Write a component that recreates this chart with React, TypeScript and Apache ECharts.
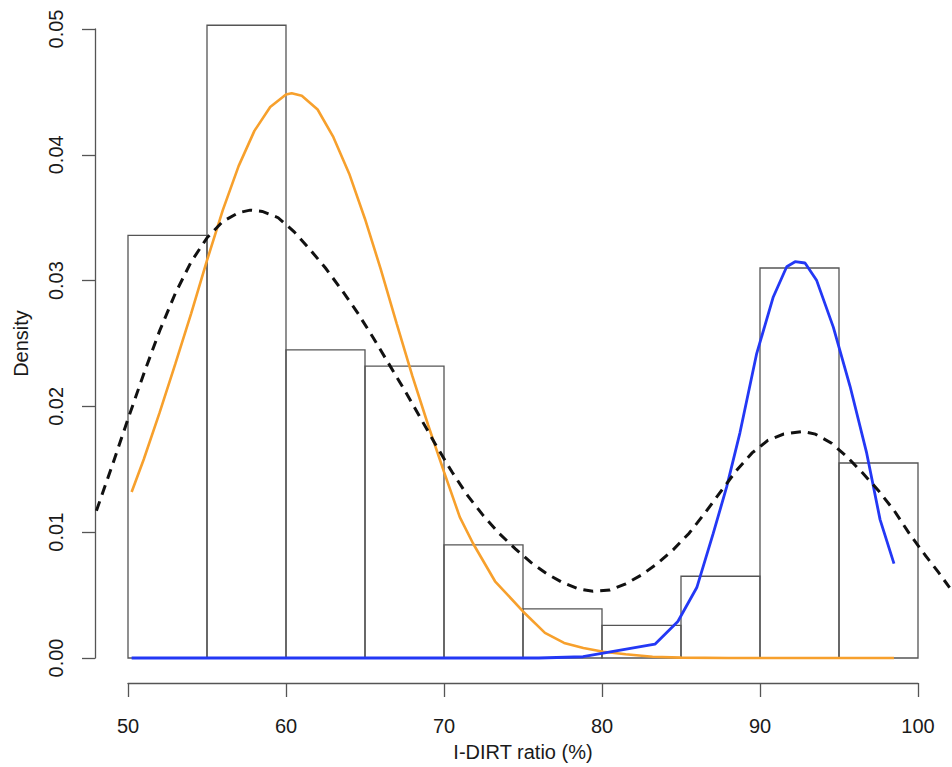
import React, { useEffect, useRef } from "react";
import * as echarts from "echarts";

// Histogram (density scale)
const binEdges = [50, 55, 60, 65, 70, 75, 80, 85, 90, 95, 100];
const binDensity = [0.0336, 0.0503, 0.0245, 0.0232, 0.009, 0.0039, 0.0026, 0.0065, 0.031, 0.0155];

// Orange component curve
const orangeX = [50.23, 51, 52, 53, 54, 55, 56, 57, 58, 59, 60, 60.36, 61, 62, 63, 64, 65, 66, 67, 68, 69, 70, 71, 71.84, 73.23, 75.0, 76.39, 77.6, 78.82, 80.08, 81.5, 83.2, 85.0, 88.0, 92.0, 95.0, 98.48];
const orangeY = [0.0132, 0.0158, 0.0195, 0.0234, 0.0274, 0.0316, 0.0356, 0.0391, 0.0419, 0.0438, 0.0448, 0.0449, 0.0447, 0.0436, 0.0414, 0.0385, 0.0349, 0.0309, 0.0266, 0.0224, 0.0185, 0.0148, 0.0112, 0.0091, 0.0061, 0.0037, 0.002, 0.0012, 0.0008, 0.0005, 0.0003, 0.0001, 0.00003, 0, 0, 0, 0];

// Blue component curve
const blueX = [50.23, 60, 70, 76, 78.8, 83.35, 84.8, 86.0, 87.04, 87.89, 88.73, 89.79, 90.84, 91.69, 92.22, 92.85, 93.59, 94.64, 95.7, 96.75, 97.6, 98.48];
const blueY = [0, 0, 0, 0, 0.0001, 0.0011, 0.0029, 0.0056, 0.0099, 0.0136, 0.0179, 0.0242, 0.0287, 0.0311, 0.0315, 0.0314, 0.03, 0.0263, 0.0216, 0.0163, 0.011, 0.0075];

// Dashed mixture density curve
const mixX = [48, 49, 50, 51, 52, 53, 54, 55, 56, 57, 57.72, 58.5, 59.5, 60.5, 61.5, 62.5, 63.5, 64.5, 65.5, 66.5, 67.5, 68.5, 69.5, 70.5, 71.5, 72.5, 73.5, 74.5, 75.5, 76.5, 77.5, 78.5, 79.43, 80.5, 81.5, 82.5, 83.5, 84.5, 85.5, 86.5, 87.5, 88.5, 89.5, 90.5, 91.5, 92.7, 93.5, 94.5, 95.5, 96.5, 97.5, 98.5, 99.5, 100.5, 101.3, 102];
const mixY = [0.0117, 0.0153, 0.019, 0.0226, 0.026, 0.029, 0.0315, 0.0334, 0.0347, 0.0354, 0.0356, 0.0355, 0.035, 0.0339, 0.0325, 0.031, 0.0293, 0.0275, 0.0255, 0.0234, 0.0213, 0.0191, 0.0169, 0.0148, 0.0129, 0.0113, 0.0099, 0.0087, 0.0076, 0.0067, 0.006, 0.0055, 0.0053, 0.0054, 0.0059, 0.0066, 0.0075, 0.0086, 0.0099, 0.0115, 0.0132, 0.0149, 0.0163, 0.0173, 0.0178, 0.018, 0.0178, 0.0171, 0.016, 0.0147, 0.0133, 0.0117, 0.0098, 0.0081, 0.0068, 0.0056];

const xTicks = [50, 60, 70, 80, 90, 100];
const yTicks = [0, 0.01, 0.02, 0.03, 0.04, 0.05];

const FONT = "'Liberation Sans', Arial, Helvetica, sans-serif";
const AXIS = "#555555";

export default function App() {
  const ref = useRef<HTMLDivElement>(null);
  useEffect(() => {
    document.body.style.margin = "0";
    const chart = echarts.init(ref.current!, null, { renderer: "svg" });
    const zip = (xs: number[], ys: number[]) => xs.map((x, i) => [x, ys[i]]);
    const bins = binDensity.map((d, i) => [binEdges[i], binEdges[i + 1], d]);
    const mixData = zip(mixX, mixY);
    chart.setOption({
      animation: false,
      backgroundColor: "#ffffff",
      textStyle: { fontFamily: FONT },
      grid: { left: 128, right: 34, top: 29, bottom: 109 },
      xAxis: {
        type: "value",
        min: xTicks[0],
        max: xTicks[xTicks.length - 1],
        interval: 10,
        offset: 25,
        name: "I-DIRT ratio (%)",
        nameLocation: "middle",
        nameGap: 59,
        nameTextStyle: { fontSize: 20, color: "#1a1a1a", fontFamily: FONT },
        axisLine: { onZero: false, lineStyle: { color: AXIS, width: 1.3 } },
        axisTick: { length: 14, lineStyle: { color: AXIS, width: 1.3 } },
        axisLabel: { fontSize: 20, color: "#1a1a1a", margin: 33, fontFamily: FONT },
        splitLine: { show: false },
      },
      yAxis: {
        type: "value",
        min: yTicks[0],
        max: yTicks[yTicks.length - 1],
        interval: 0.01,
        offset: 33,
        name: "Density",
        nameLocation: "middle",
        nameGap: 64,
        nameRotate: 90,
        nameTextStyle: { fontSize: 20, color: "#1a1a1a", fontFamily: FONT },
        axisLine: { show: true, onZero: false, lineStyle: { color: AXIS, width: 1.3 } },
        axisTick: { show: true, length: 13, lineStyle: { color: AXIS, width: 1.3 } },
        axisLabel: {
          fontSize: 20,
          color: "#1a1a1a",
          rotate: 90,
          margin: 29,
          fontFamily: FONT,
          formatter: (v: number) => v.toFixed(2),
        },
        splitLine: { show: false },
      },
      series: [
        {
          type: "custom",
          clip: false,
          data: bins,
          encode: { x: [0, 1], y: 2 },
          renderItem: (params: any, api: any) => {
            const p0 = api.coord([api.value(0), api.value(2)]);
            const p1 = api.coord([api.value(1), 0]);
            return {
              type: "rect",
              shape: { x: p0[0], y: p0[1], width: p1[0] - p0[0], height: p1[1] - p0[1] },
              style: { fill: "none", stroke: AXIS, lineWidth: 1.3 },
            };
          },
          z: 1,
        },
        {
          type: "line",
          data: zip(orangeX, orangeY),
          showSymbol: false,
          clip: false,
          lineStyle: { color: "#F7A02C", width: 2.6 },
          z: 2,
        },
        {
          type: "line",
          data: zip(blueX, blueY),
          showSymbol: false,
          clip: false,
          lineStyle: { color: "#2338F5", width: 2.8 },
          z: 3,
        },
        {
          type: "custom",
          clip: false,
          data: mixData,
          encode: { x: 0, y: 1 },
          renderItem: (params: any, api: any) => {
            if (params.dataIndex !== 0) return null;
            const pts = mixData.map((d) => api.coord(d));
            return {
              type: "polyline",
              shape: { points: pts },
              style: { fill: "none", stroke: "#111111", lineWidth: 3, lineDash: [10, 7] },
            };
          },
          z: 4,
        },
      ],
    });
    return () => chart.dispose();
  }, []);
  return (
    <div
      ref={ref}
      style={{ position: "absolute", left: 0, top: 0, width: 952, height: 767 }}
    />
  );
}
